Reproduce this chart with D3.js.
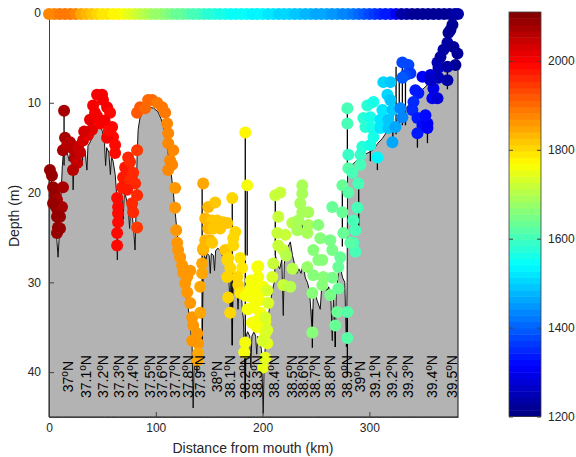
<!DOCTYPE html>
<html><head><meta charset="utf-8">
<script src="https://cdn.jsdelivr.net/npm/d3@7"></script>
<style>
body{margin:0;background:#fff}
svg text{font-family:"Liberation Sans",Arial,Helvetica,sans-serif}
</style></head><body><div id="app"></div>
<script>
// bottom profile [km, depth]
var bottom = [[0,17],[2,18.5],[4,20],[6,23],[7.5,25.5],[8.5,27.2],[9.5,25],[11,21],[12.5,17],[13.5,15.5],[15,15],[17,15.5],[19,16.5],[20,15.3],[22,16],[22.6,19.7],[23.5,16],[25,15.5],[26.5,17.5],[27.5,15.2],[29,15.5],[31,17],[32,15],[34,15.5],[35.5,17.5],[36.5,14.8],[38,14.5],[40,14],[42,13.2],[44,12.6],[46,12.3],[48,12.5],[50,13.2],[52,14.5],[53,17],[54,15],[56,15.5],[57.5,18],[58.5,16],[60,16.5],[62,18],[63.2,20],[64,27.5],[64.8,21],[66,20],[68,19.5],[69.5,23],[70.5,20],[72,20.5],[74,21.5],[75.5,24],[76.5,21.5],[78,22.5],[79.5,24.5],[80.6,26.4],[81.5,22],[82.5,16],[83.5,13],[85,11.8],[87,11.2],[90,10.8],[94,10.5],[98,10.6],[102,11],[105,11.8],[108,13],[110,14.5],[112,16],[114,17.5],[116,19.5],[118,22],[120,24.5],[122,26.5],[124,28],[126,29.5],[128,31],[130,32.5],[132,34.5],[134,37],[135,44],[136,38.5],[137.5,37],[138.5,40],[139.5,37],[141,35.5],[142.5,36.5],[143.5,37],[144.5,28],[145.5,27],[147,27.5],[148,26.8],[150,27],[151,29],[152,26.8],[154,27],[155,28.7],[156,26.5],[158,26.2],[160,26.4],[162,27],[164,26.5],[166,28],[168,28.5],[169.7,33],[170.5,29],[171.6,37],[172.5,29.5],[174,30],[176,30.5],[177,33],[178,30.5],[180,31],[181,33],[182,34],[183,38],[183.8,43],[184.6,36],[186,35.5],[188,36],[189,39.5],[190,36],[192,35.5],[193.5,36],[194.5,38],[195.5,36],[197,36.5],[199,37.5],[200.6,44.6],[201.5,39],[203,36.5],[205,34],[207,32.5],[209,31],[211,30],[212,27],[214,28],[216,28.5],[218,27.5],[219.4,33.7],[220.3,28],[222,26.5],[224,26],[226,25.5],[228,27],[230,28],[232,29],[234,28.5],[236,29],[238,28],[240,29.5],[242,30],[244,31],[246.6,35.7],[247.5,31.5],[249,31],[251,32],[254,33],[255.9,29.5],[258,30],[260,31],[262,30.5],[264,32],[265.3,36.5],[266.5,31],[268.1,37.2],[269,31],[271,29],[273,28.5],[275,29.5],[277,30],[278.5,37.2],[279.2,30],[279.6,17.2],[282,17],[285,16.8],[290,16.2],[295,15.8],[300,15.5],[304,15.2],[308,14.5],[312,14],[316,13.3],[320,12.8],[326,12],[330,11.2],[335,10.5],[340,9.8],[345,9],[350,8.5],[357,7.7],[362,7],[367,6.5],[372,6],[377,5.5],[383,5.2]]

// vertical cast lines [km, top depth, bottom depth]
var stems = [[14.1,10.9,17],[143.4,19,37],[183.8,13.3,43],[185.6,19.2,27],[171.6,20.6,37],[211.9,20.3,27],[279.4,10.6,17.2],[279.4,33.3,40.4],[246.6,33,37.3],[268.1,34.8,37.2],[237.2,19.2,24],[274.7,19.2,26],[290,19,24],[325,6,13.5],[328,7,13],[330.9,5.5,12.5],[333.8,7,12.5],[322,11,14.5],[307.5,16.1,17.5],[345,13.4,15],[354.4,12.8,14.5],[373.1,6,8.5],[300.9,14.7,16.5],[293.4,14.9,17]]

// samples [km, depth, value]
var samples = [
[0.9,17.5,2090],[2.8,18.1,2090],[3.8,19.4,2085],[5.6,20.3,2085],[7.5,20.8,2080],[13.1,19.4,2075],[6.6,21.6,2085],[8.4,22,2085],[12.2,21.6,2080],[7.5,22.7,2090],[10.3,22.7,2085],[8.4,23.9,2090],[7.5,24.5,2090],[3.8,21.2,2085],[10.3,24,2085],[14.1,10.9,2075],
[15,13.9,2070],[13.1,15.3,2070],[19.7,14.4,2060],[22.5,15.1,2060],[27.2,14.9,2050],[24.4,16.2,2060],[26.3,16.7,2050],[22.5,17.5,2055],[29.1,15.5,2040],[31.9,14.2,2035],[36.6,13.6,2020],[40.3,13,2015],[38.4,11.9,2015],[43.1,11.1,2010],[41.3,10.3,2010],[45,9.1,2000],[49.7,9.1,2000],[50.6,9.7,2000],[54.4,10.5,2000],[57.2,11.1,1995],[47.8,12.3,2005],[59.1,12.7,1995],[60,13.8,1995],[54.4,13.9,2000],[61.9,14.7,1990],[61.9,15.6,1990],[17,14.7,2065],[33,13.2,2030],[45,11.5,2005],[52,12,2000],[56,13.1,1995],
[63.8,20.6,1985],[64.7,21.6,1985],[64.7,22.3,1985],[64.7,23.3,1985],[63.8,24.5,1985],[63.8,25.9,1985],[68.4,19.4,1975],[69.4,18.3,1975],[71.3,17.2,1970],[74.1,16.1,1965],[75.9,16.6,1965],[82.5,15.3,1950],[78.8,17.8,1960],[80.6,19,1955],[82.5,20.3,1955],[77.8,21.2,1960],[78.8,22.2,1960],[82.5,23.9,1950],[75.9,18.6,1965],[73.1,19.7,1968],
[82.5,11.1,1920],[85.3,10.5,1915],[90,10.6,1910],[92.8,9.7,1905],[96.6,9.7,1900],[101.3,10,1895],[106,10.5,1890],[108.8,11.1,1885],[110.6,12.3,1880],[111.6,13.4,1878],[111.6,14.5,1875],[116.3,15.3,1870],[113.4,16.4,1870],[115.3,16.9,1870],[111.6,17.5,1870],[118.1,19.5,1868],[118.1,21.7,1866],[119.1,24.2,1865],[120,25.6,1865],[120.9,26.4,1865],[122.8,27.2,1865],[124.7,28.1,1863],[125.6,28.9,1863],[129.4,29.4,1862],[132.2,28.7,1860],[127.5,30.1,1862],[129.4,31.1,1862],[132.2,32.3,1860],[134.1,33.9,1860],[135,34.8,1858],[138.8,35.7,1855],[134.1,36.5,1855],[139.7,36.8,1855],[139.7,37.9,1850],[138.8,38.7,1850],
[144.4,19,1850],[143.4,27.9,1850],[143.4,29,1850],[141.6,30.5,1850],[141.6,33.4,1852],[144.4,26.4,1845],
[149.1,21.6,1830],[155.6,21.1,1825],[146.3,22.9,1830],[152.8,23.1,1825],[157.5,23.1,1820],[163.1,23.3,1815],[166.9,23.4,1812],[149.1,24,1830],[153.8,24,1825],[160.3,24,1818],[146.3,25.3,1830],[150.9,25.3,1828],[144.4,26.2,1832],[152.8,25.6,1825],[171.6,20.6,1810],[174.4,24.4,1805],[172.5,25.1,1805],[165,26.4,1812],[167.8,27.3,1810],[172.5,25.9,1805],[169.7,28.4,1808],[179.1,27.3,1795],[180.9,28.4,1793],[166.9,29.4,1810],[167.8,31.7,1808],[169.7,33.4,1805],[176.3,29.4,1798],[177.2,30.3,1798],[179.1,31.2,1795],[166.9,27.5,1810],
[183.8,13.3,1770],[185.6,19.2,1768],[188.4,30.7,1765],[190.3,31.7,1762],[183.8,36.7,1765],[182.8,37.8,1765],[195,28.3,1760],[195.9,29.4,1758],[200.6,30.5,1755],[191.3,32.8,1760],[197.8,33.4,1755],[202.5,34.4,1750],[202.5,35.7,1750],[204.4,36.8,1748],[202.5,38.4,1750],[200.6,39.5,1752],[195.9,28.2,1760],[193.1,34.4,1755],[189,29.8,1762],[192,30.5,1760],[194,31.5,1758],[197,32,1755],[199,31,1755],[186,33,1765],[190,34.5,1760],[195,35,1755],[200,36.5,1752],[184,31.5,1766],
[211.9,20.3,1720],[216.6,20,1718],[214.7,22.7,1720],[213.8,24.5,1722],[214.7,25.9,1720],[210,27.9,1725],[221.3,24.7,1712],[219.4,26.4,1714],[227.8,23.4,1700],[232.5,24.2,1695],[233.4,23.1,1695],[237.2,22.2,1690],[235.3,21.2,1692],[237.2,20.1,1690],[237.2,19.2,1690],[242.8,22.2,1685],[242.8,23.6,1685],[241.9,24.5,1686],[209.1,29.4,1728],[219.4,30.3,1715],[204.4,30.9,1735],[205.3,32.3,1735],[202.5,33.9,1738],[204.4,35.3,1736],[200.6,36.5,1740],[222,27,1710],[228,28.5,1702],[226,30.5,1705],
[252.2,23.6,1660],[254.1,25.1,1658],[247.5,26.4,1665],[252.2,27.5,1660],[255.9,27.5,1655],[241.9,28.3,1672],[247.5,29.2,1665],[256.9,29.4,1655],[246.6,31.2,1668],[255.9,30.3,1655],[263.4,25.3,1645],[265.3,26.4,1642],[272.8,27.2,1635],[270.9,28.3,1638],[265.3,29.5,1642],[263.4,31.4,1645],[270.9,30.7,1638],[270,33.3,1640],[268.1,34.8,1640],[279.4,33.3,1625],[279.4,36.2,1625],[246.6,35.6,1668],[265.3,21.6,1640],[274.7,22.2,1630],[274.7,19.2,1630],[280.3,20,1620],[280.3,17.3,1618],[289.7,19,1605],[284.1,17.8,1610],[291.6,16.9,1600],[288.8,21.7,1605],[285,23.1,1610],[286.9,24.2,1608],[285,25.6,1610],[286.9,26.6,1608],[282.2,25.6,1615],[275.6,24.5,1628],
[279.4,10.6,1600],[279.4,12.3,1600],[280.3,15.8,1598],[291.6,15.8,1585],[293.4,14.9,1580],[296.3,12.7,1575],[294.4,11.7,1578],[298.1,10.3,1570],[303.8,9.9,1560],[300.9,11.6,1565],[302.8,12.8,1560],[303.8,13.8,1558],[300.9,14.7,1565],[307.5,16.1,1530],[312.2,10.8,1520],[310.3,11.9,1525],[313.1,7.7,1500],[319.7,7.7,1495],[316.9,9.1,1500],[319.7,9.7,1495],[321.6,10.8,1490],[317.8,11.9,1495],[310.3,12.8,1520],[317.8,12.8,1495],[321.6,14.4,1460],[324.4,12.7,1470],[329.1,10.6,1440],[330.9,11.6,1430],
[330.9,5.5,1380],[336.6,5.8,1375],[338.4,6.7,1370],[333.8,6.9,1375],[330.9,7.2,1385],[343.1,8.6,1340],[345.9,8.9,1335],[341.3,9.9,1345],[340.3,10.8,1350],[345,11.7,1335],[349.7,12.5,1320],[354.4,12.3,1310],[352.5,11.4,1315],[359,9.5,1300],[363.8,9.5,1280],[360,8.4,1290],[349.7,7.1,1300],[357.2,6.9,1280],[364.7,6.1,1250],[363.8,5.5,1250],[366.6,4.9,1240],[369.4,4.1,1235],[373.1,3.3,1230],[374.1,2.2,1225],[377.8,1.3,1222],[375.9,1.9,1225],[378.8,3.8,1222],[382.5,4.5,1220],[380.6,5.8,1220],[373.1,6,1230],[373.1,7.5,1235],[364.7,7.2,1250],[357.2,7.5,1270],[345,13.4,1330],[354.4,12.8,1310]
]

// surface strip
var stripKm = [0,5,10,15,20,25,30,35,40,45,50,55,60,65,70,75,80,85,90,95,100,105,110,115,120,125,130,135,140,145,150,155,160,165,170,175,180,185,190,195,200,205,210,215,220,225,230,235,240,245,250,255,260,265,270,275,280,285,290,295,300,305,310,315,320,325,330,335,340,345,350,355,360,365,370,375,380,383]
var stripValue = [1870,1875,1885,1895,1890,1870,1850,1835,1820,1810,1795,1785,1778,1772,1765,1745,1730,1715,1700,1688,1680,1672,1660,1648,1638,1628,1620,1610,1600,1592,1582,1572,1564,1558,1552,1548,1545,1542,1540,1538,1532,1525,1518,1510,1505,1500,1497,1490,1482,1475,1468,1462,1456,1452,1445,1437,1430,1425,1405,1390,1380,1370,1355,1342,1330,1300,1232,1230,1228,1226,1222,1220,1218,1222,1225,1228,1230,1232]

var latLabels = ["37","37.1","37.2","37.3","37.4","37.5","37.6","37.7","37.8","37.9","38","38.1","38.2","38.3","38.4","38.5","38.6","38.7","38.8","38.9","39","39.1","39.2","39.3","39.4","39.5"]
var latKm = [17.8,34.7,50.6,65.6,78.8,94.7,105.9,118.1,130.3,141.6,157.5,169.7,183.8,195,210.9,227.8,238.1,249.4,263.4,279.4,291.6,305.6,321.6,336.6,359.1,377.8]

var xTicks = [0,100,200,300]
var yTicks = [0,10,20,30,40]
var cTicks = [1200,1400,1600,1800,2000]
var cRange = [1200,2110]

var svg = d3.select("#app").append("svg").attr("width",576).attr("height",457)

var x = d3.scaleLinear().domain([0,383]).range([49,458])
var y = d3.scaleLinear().domain([0,45]).range([13,417])

function jet(t){
  var c = v => Math.max(0,Math.min(1,v))
  return d3.rgb(255*c(1.5-Math.abs(4*t-3)),255*c(1.5-Math.abs(4*t-2)),255*c(1.5-Math.abs(4*t-1))).formatHex()
}
var color = d3.scaleQuantize().domain(cRange).range(d3.range(64).map(i=>jet((i+0.5)/64)))

// sea floor
var area = d3.area().x(d=>x(d[0])).y0(y(45)).y1(d=>y(d[1]))
svg.append("path").datum(bottom).attr("d",area)
  .attr("fill","#b3b3b3").attr("stroke","#111").attr("stroke-width",1)

svg.selectAll(".stem").data(stems).enter().append("line").attr("class","stem")
  .attr("x1",d=>x(d[0])).attr("x2",d=>x(d[0]))
  .attr("y1",d=>y(d[1])).attr("y2",d=>y(d[2]))
  .attr("stroke","#000").attr("stroke-width",1.3)

// axes
var yAxis = svg.append("g").attr("transform","translate(49,0)")
  .call(d3.axisLeft(y).tickValues(yTicks).tickSizeInner(-5).tickSizeOuter(0).tickPadding(8))
var xAxis = svg.append("g").attr("transform","translate(0,417)")
  .call(d3.axisBottom(x).tickValues(xTicks).tickSizeInner(-5).tickSizeOuter(0).tickPadding(6))
svg.selectAll(".domain,.tick line").attr("stroke","#404040")
svg.selectAll(".tick text").attr("fill","#262626").style("font-size","12px")

svg.selectAll(".pt").data(samples).enter().append("circle").attr("class","pt")
  .attr("cx",d=>x(d[0])).attr("cy",d=>y(d[1])).attr("r",6)
  .attr("fill",d=>color(d[2]))

svg.selectAll(".strip").data(stripKm).enter().append("circle").attr("class","strip")
  .attr("cx",d=>x(d)).attr("cy",y(0)+1).attr("r",6)
  .attr("fill",(d,i)=>color(stripValue[i]))

// latitude labels
var lat = svg.selectAll(".lat").data(latLabels).enter().append("text").attr("class","lat")
  .attr("transform",(d,i)=>"translate("+x(latKm[i])+","+y(40.5)+") rotate(-90)")
  .attr("text-anchor","middle").attr("dy","0.35em")
  .style("font-size","14px").attr("fill","#000")
lat.append("tspan").text(d=>d)
lat.append("tspan").text("o").style("font-size","10px").attr("baseline-shift","super")
lat.append("tspan").text("N")

svg.append("text").text("Depth (m)").attr("text-anchor","middle")
  .attr("transform","translate(19,216) rotate(-90)")
  .style("font-size","14px").attr("fill","#262626")
svg.append("text").text("Distance from mouth (km)").attr("text-anchor","middle")
  .attr("x",253).attr("y",453).style("font-size","14px").attr("fill","#262626")

// colorbar
var cy = d3.scaleLinear().domain(cRange).range([416.5,12])
var bands = color.range().map(c=>color.invertExtent(c))
svg.selectAll(".band").data(bands).enter().append("rect").attr("class","band")
  .attr("x",509).attr("width",32)
  .attr("y",d=>cy(d[1])).attr("height",d=>cy(d[0])-cy(d[1])+0.5)
  .attr("fill",d=>color((d[0]+d[1])/2))
svg.append("rect").attr("x",509).attr("y",12).attr("width",32).attr("height",404.5)
  .attr("fill","none").attr("stroke","#404040").attr("stroke-width",0.8)
var cbR = svg.append("g").attr("transform","translate(541,0)")
  .call(d3.axisRight(cy).tickValues(cTicks).tickFormat(d3.format("d")).tickSizeInner(-4).tickSizeOuter(0).tickPadding(7))
var cbL = svg.append("g").attr("transform","translate(509,0)")
  .call(d3.axisLeft(cy).tickValues(cTicks).tickSizeInner(-4).tickSizeOuter(0).tickFormat(""))
cbR.select(".domain").remove()
cbL.select(".domain").remove()
svg.selectAll(".tick line").attr("stroke","#404040")
cbR.selectAll(".tick text").attr("fill","#262626").style("font-size","12px")
</script></body></html>
